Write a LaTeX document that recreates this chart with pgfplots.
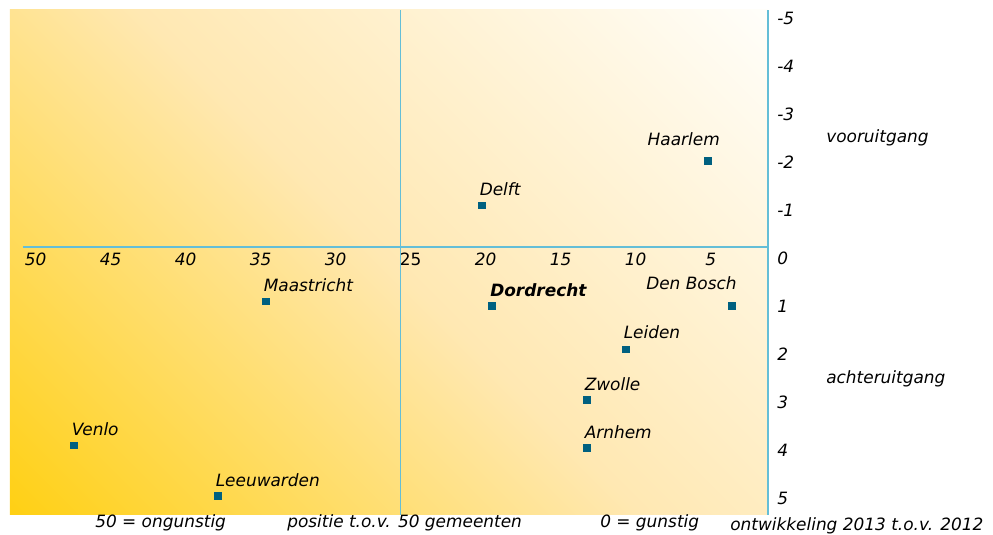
\documentclass[border=0pt]{standalone}
\usepackage{pgfplots}
\pgfplotsset{compat=1.18}
\usepackage{pgfplotstable}
\usepackage{fontspec}
\setmainfont{DejaVu Sans}
\definecolor{mk}{RGB}{0,96,128}
\definecolor{ln}{RGB}{100,190,215}
\definecolor{cBL}{RGB}{255,208,20}
\definecolor{cMid}{RGB}{255,232,178}
\definecolor{cTR}{RGB}{255,254,250}
\pgfdeclarehorizontalshading{diag}{100bp}{color(0bp)=(cBL); color(14.64bp)=(cBL); color(50bp)=(cMid); color(85.36bp)=(cTR); color(100bp)=(cTR)}
\newcommand\f{\fontsize{12.7}{15}\selectfont\itshape}
\pgfplotstableread{
x y
47.3 3.9
37.7 4.95
34.5 0.9
19.4 1.0
3.4 1.0
20.1 -1.1
13.1 2.95
13.1 3.95
10.5 1.9
5.0 -2.03
}\cities
\tikzset{pxs/.style={x=0.75pt,y=-0.75pt,shift={(-10,-515)}}}
\begin{document}
\begin{tikzpicture}
\begin{scope}[pxs]
\path[use as bounding box] (0,0) rectangle (993,533);
\shade[shading=diag, shading angle=45] (10,10) rectangle (768,515);
\end{scope}
\begin{axis}[at={(0,0)}, anchor=south west, scale only axis,
  width=579.75pt, height=378.75pt,
  x dir=reverse, y dir=reverse,
  xmin=0, xmax=51.533, ymin=-5.1667, ymax=5.354,
  axis line style={draw=none}, major tick length=0pt, clip=false,
  xtick={0,5,...,50},
  xticklabels={{},5,10,15,20,{\upshape 25},30,35,40,45,50},
  ytick={-5,...,5},
  yticklabels={-5,-4,-3,-2,-1,0,1,2,3,4,5},
  yticklabel pos=right,
  xticklabel style={font=\f, anchor=center, inner sep=0pt, yshift=192pt, xshift=2pt},
  yticklabel style={font=\f, anchor=west, inner sep=0pt, xshift=-4.5pt},
]
\addplot[ln, line width=1.2pt] coordinates {(50.67,-0.229) (1,-0.229)};
\addplot[ln, line width=0.6pt] coordinates {(25.53,-5.1667) (25.53,5.354)};
\addplot[ln, line width=1.3pt] coordinates {(1,-5.1667) (1,5.354)};
\addplot[only marks, mark=square*, mark size=2.5pt, mk] table[x=x,y=y] {\cities};
\tikzset{cl/.style={anchor=base west, font=\f, inner sep=0pt, xshift=-1.5pt, yshift=7.1pt}}
\node[cl] at (axis cs:47.3,3.9) {Venlo};
\node[cl] at (axis cs:37.7,4.95) {Leeuwarden};
\node[cl] at (axis cs:34.5,0.9) {Maastricht};
\node[cl, font=\f\bfseries] at (axis cs:19.4,1.0) {Dordrecht};
\node[cl, xshift=-63pt, yshift=5.65pt] at (axis cs:3.4,1.0) {Den Bosch};
\node[cl] at (axis cs:20.1,-1.1) {Delft};
\node[cl] at (axis cs:13.1,2.95) {Zwolle};
\node[cl] at (axis cs:13.1,3.95) {Arnhem};
\node[cl, yshift=1pt] at (axis cs:10.5,1.9) {Leiden};
\node[cl, xshift=-43.9pt, yshift=4.5pt] at (axis cs:5.0,-2.03) {Haarlem};
\end{axis}
\begin{scope}[pxs]
\tikzset{bt/.style={anchor=base west, font=\f, inner sep=0pt}}
\node[bt] at (95,528) {50 = ongunstig};
\node[bt] at (287,528) {positie t.o.v. 50 gemeenten};
\node[bt] at (600,528) {0 = gunstig};
\node[bt] at (730,531) {ontwikkeling 2013 t.o.v. 2012};
\node[bt] at (826,143) {vooruitgang};
\node[bt] at (826,384) {achteruitgang};
\end{scope}
\end{tikzpicture}
\end{document}
